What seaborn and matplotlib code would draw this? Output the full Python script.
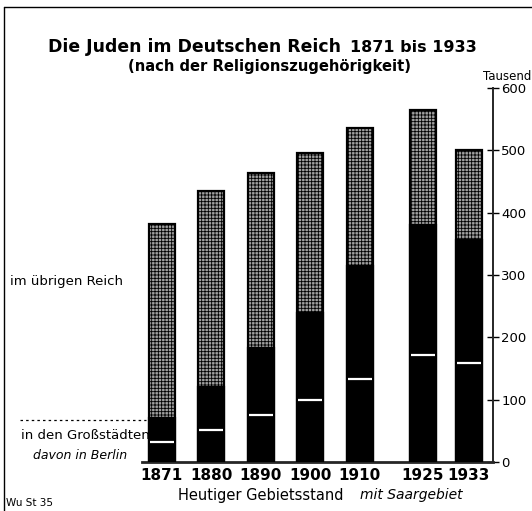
import pandas as pd
import matplotlib.pyplot as plt
import seaborn as sns
from matplotlib.lines import Line2D

# ---------------------------------------------------------------------------
# data (Tausend)
# ---------------------------------------------------------------------------
years = ['1871', '1880', '1890', '1900', '1910', '1925', '1933']
total = [382, 435, 464, 496, 536, 565, 501]          # Deutsches Reich gesamt
grossstaedte = [71, 120, 183, 239, 314, 380, 356]    # in den Großstädten
berlin = [32, 51, 75, 100, 133, 172, 159]            # davon in Berlin

# layout: horizontal slot of each bar (gap before 1925)
slots = [0, 1, 2, 3, 4, 5.27, 6.2]

df = pd.DataFrame({'slot': slots, 'jahr': years, 'total': total,
                   'gross': grossstaedte, 'berlin': berlin})

# ---------------------------------------------------------------------------
# plot
# ---------------------------------------------------------------------------
sns.set_style('white')
plt.rcParams['font.family'] = ['DejaVu Sans']
plt.rcParams['text.color'] = 'black'
plt.rcParams['xtick.color'] = 'black'
plt.rcParams['ytick.color'] = 'black'
plt.rcParams['hatch.linewidth'] = 0.6

fig = plt.figure(figsize=(5.32, 5.11), dpi=100)
ax = fig.add_axes([142 / 532, 49 / 511, 351 / 532, 374 / 511])

bar_w = 0.53 / 0.93   # seaborn scales native widths by the min spacing

sns.barplot(data=df, x='slot', y='total', native_scale=True, width=bar_w,
            color='#a0a0a0', hatch='+++++', edgecolor='black', linewidth=1.6,
            saturation=1, ax=ax, zorder=2)
sns.barplot(data=df, x='slot', y='gross', native_scale=True, width=bar_w,
            color='black', edgecolor='black', linewidth=1.6,
            saturation=1, ax=ax, zorder=3)

# Berlin marks
ax.hlines(df['berlin'], df['slot'] - 0.24, df['slot'] + 0.24,
          color='white', lw=1.6, zorder=4)

ax.set_xlim(-0.4, 6.69)
ax.set_ylim(0, 600)
ax.set_xlabel('')
ax.set_ylabel('')

ax.set_xticks(slots)
ax.set_xticklabels(years, fontsize=11, fontweight='bold')
ax.tick_params(axis='x', length=0, pad=4)

ax.yaxis.tick_right()
ax.set_yticks(range(0, 601, 100))
ax.tick_params(axis='y', direction='inout', length=8, width=1,
               labelsize=9.5, pad=2)

for side in ['left', 'top']:
    ax.spines[side].set_visible(False)
ax.spines['right'].set_linewidth(1.4)
ax.spines['bottom'].set_linewidth(2)

# ---------------------------------------------------------------------------
# texts
# ---------------------------------------------------------------------------
def px(x, y):
    return x / 532, 1 - y / 511

fig.text(*px(48, 47), 'Die Juden im Deutschen Reich', fontsize=12.4,
         fontweight='bold', ha='left', va='center')
fig.text(*px(350, 48), '1871 bis 1933', fontsize=11.5, fontweight='bold',
         ha='left', va='center')
fig.text(*px(269, 66), '(nach der Religionszugehörigkeit)', fontsize=10.6,
         fontweight='bold', ha='center', va='center')
fig.text(*px(531, 76), 'Tausend', fontsize=8.5, ha='right', va='center')

fig.text(*px(10, 281), 'im übrigen Reich', fontsize=9.5, ha='left', va='center')
fig.text(*px(21, 435), 'in den Großstädten', fontsize=9.5, ha='left',
         va='center')
fig.text(*px(33, 455), 'davon in Berlin', fontsize=9, style='italic',
         ha='left', va='center')
fig.add_artist(Line2D([20 / 532, 146 / 532], [1 - 420 / 511, 1 - 420 / 511],
                      color='black', lw=0.9, ls=(0, (2, 2.5))))

fig.text(*px(178, 495), 'Heutiger Gebietsstand', fontsize=10.5,
         ha='left', va='center')
fig.text(*px(360, 495), 'mit Saargebiet', fontsize=10, style='italic',
         ha='left', va='center')
fig.text(*px(6, 503), 'Wu St 35', fontsize=7.5, ha='left', va='center')

# frame of the original sheet
fig.add_artist(Line2D([4 / 532, 4 / 532], [0, 1 - 7 / 511], color='black', lw=1))
fig.add_artist(Line2D([4 / 532, 1], [1 - 7 / 511, 1 - 7 / 511], color='black', lw=1))

fig.savefig('out.png', dpi=100)
